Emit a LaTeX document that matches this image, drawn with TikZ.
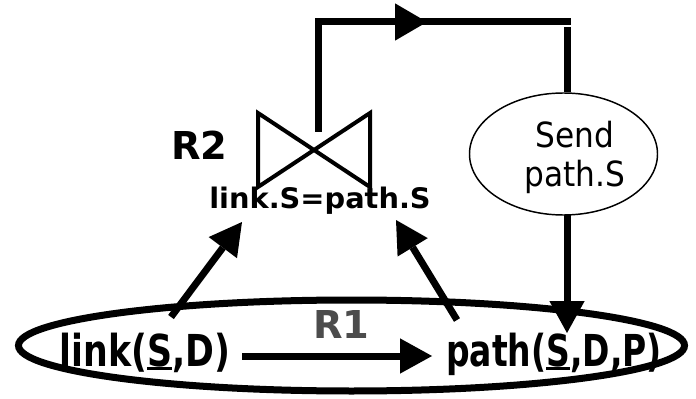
\documentclass[tikz,border=0pt]{standalone}
\usepackage{fontspec}
\setmainfont{DejaVu Sans}
\usetikzlibrary{arrows.meta,shapes.geometric}

% underline with a heavier rule than \underline gives
\newsavebox\ulbox
\newcommand{\thickul}[1]{\sbox\ulbox{#1}\rlap{\rule[-0.1em]{\wd\ulbox}{0.075em}}\usebox\ulbox}

\tikzset{
  conn/.style={line width=5.25pt},
  arrowed/.style={-{Triangle[length=24pt,width=26.5pt,line width=0pt]}},
  widearrow/.style={-{Triangle[length=24pt,width=28pt,line width=0pt]}},
  label/.style={anchor=base, inner sep=0pt, outer sep=0pt},
}

\begin{document}
\begin{tikzpicture}[x=0.75pt, y=-0.75pt]
  \useasboundingbox (0,0) rectangle (696,399);

  % rule R1: the large ellipse holding both relations
  \node[draw, ellipse, line width=5.25pt, inner sep=0pt,
        minimum width=499.5pt, minimum height=68.25pt] (r1box) at (351.5,345.5) {};
  \node[label, text=black!70] (r1) at (341.5,338)
    {\fontsize{28.8}{32}\selectfont\bfseries R1};

  \node[label] (link) at (145,366)
    {\scalebox{0.79}[1]{\fontsize{33}{38}\selectfont\bfseries link(\thickul{S},D)}};
  \node[label] (path) at (554,366)
    {\scalebox{0.75}[1]{\fontsize{33}{38}\selectfont\bfseries path(\thickul{S},D,P)}};

  % rule R2: the join
  \node[label] (r2) at (199.5,160)
    {\fontsize{28.8}{32}\selectfont\bfseries R2};
  \draw[line width=3pt, line join=miter]
    (258,113) -- (370,187) -- (370,113) -- (258,187) -- cycle;
  \coordinate (bowtie) at (318,132);
  \node[label] (join) at (320,209)
    {\scalebox{1.02}[1]{\fontsize{21.2}{25}\selectfont\bfseries link.S=path.S}};

  % send operator
  \node[draw, ellipse, line width=1.1pt, inner sep=0pt,
        minimum width=141pt, minimum height=91.5pt] (send) at (563.5,154) {};
  \node[label] (sendA) at (575,148)
    {\scalebox{0.9}[1]{\fontsize{26}{29}\selectfont Send}};
  \node[label] (sendB) at (575,187)
    {\scalebox{0.9}[1]{\fontsize{26}{29}\selectfont path.S}};

  % connector end points
  \coordinate (linkout) at (171,317);
  \coordinate (joinL) at (242,222);
  \coordinate (pathout) at (457,320);
  \coordinate (joinR) at (396,220);
  \coordinate (linkR) at (242,356);
  \coordinate (pathL) at (432,356);
  \coordinate (topL) at (318,22);
  \coordinate (topmid) at (427,22);
  \coordinate (topR) at (571,22);
  \coordinate (sendtop) at (567,27);
  \coordinate (sendbot) at (567,215);
  \coordinate (pathS) at (567,333);

  % connectors
  \draw[conn, arrowed] (linkout) -- (joinL);
  \draw[conn, arrowed] (pathout) -- (joinR);
  \draw[conn, arrowed] (linkR) -- (pathL);
  \draw[conn] (bowtie) -- (topL) -- (topR);
  \draw[conn, widearrow] (topL) -- (topmid);
  \draw[conn] (sendtop) -- (sendtop |- send.north);
  \draw[conn, arrowed] (sendbot) -- (pathS);
\end{tikzpicture}
\end{document}
